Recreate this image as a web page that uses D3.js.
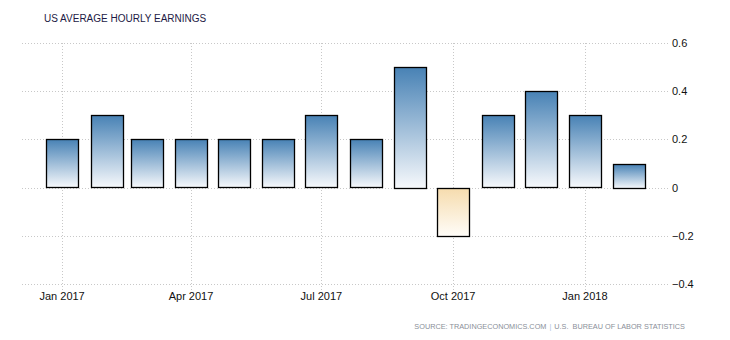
<!DOCTYPE html>
<html>
<head>
<meta charset="utf-8">
<script src="https://cdn.jsdelivr.net/npm/d3@7"></script>
<style>
  html, body { margin: 0; padding: 0; background: #fff; }
  svg { display: block; }
</style>
</head>
<body>
<svg id="chart" width="730" height="340"></svg>
<script>
const months = ["2017-01","2017-02","2017-03","2017-04","2017-05","2017-06","2017-07","2017-08","2017-09","2017-10","2017-11","2017-12","2018-01","2018-02"];
const values = [0.2, 0.3, 0.2, 0.2, 0.2, 0.2, 0.3, 0.2, 0.5, -0.2, 0.3, 0.4, 0.3, 0.1];
const yTicks = [-0.4, -0.2, 0, 0.2, 0.4, 0.6];
const xTickDates = ["2017-01","2017-04","2017-07","2017-10","2018-01"];
const xTickLabels = ["Jan 2017","Apr 2017","Jul 2017","Oct 2017","Jan 2018"];

(function () {
const parse = d3.utcParse("%Y-%m");
const svg = d3.select("#chart");
const font = "Liberation Sans, Arial, sans-serif";

const pl = 22, pr = 668, pt = 43, pb = 284;
const x = d3.scaleUtc()
  .domain([new Date(Date.UTC(2016, 11, 4)), new Date(Date.UTC(2018, 1, 28))])
  .range([pl, pr]);
const y = d3.scaleLinear().domain([-0.4, 0.6]).range([pb, pt]);
const barW = 32;

const defs = svg.append("defs");
const gPos = defs.append("linearGradient").attr("id", "gpos").attr("x1", 0).attr("y1", 0).attr("x2", 0).attr("y2", 1);
gPos.append("stop").attr("offset", "0%").attr("stop-color", "#4882b5");
gPos.append("stop").attr("offset", "100%").attr("stop-color", "#f7f9fc");
const gNeg = defs.append("linearGradient").attr("id", "gneg").attr("x1", 0).attr("y1", 0).attr("x2", 0).attr("y2", 1);
gNeg.append("stop").attr("offset", "0%").attr("stop-color", "#f6dcae");
gNeg.append("stop").attr("offset", "100%").attr("stop-color", "#fffdf9");

// Title
svg.append("text")
  .attr("x", 44).attr("y", 22)
  .attr("font-family", font)
  .attr("font-size", 10)
  .attr("fill", "#1d1a45")
  .text("US AVERAGE HOURLY EARNINGS");

// Horizontal gridlines
svg.append("g").selectAll("line").data(yTicks).join("line")
  .attr("x1", pl).attr("x2", pr)
  .attr("y1", d => Math.round(y(d)) + 0.5).attr("y2", d => Math.round(y(d)) + 0.5)
  .attr("stroke", "#c8c8c8").attr("stroke-dasharray", "1,2");

// Vertical gridlines
svg.append("g").selectAll("line").data(xTickDates).join("line")
  .attr("x1", d => Math.round(x(parse(d))) + 0.5).attr("x2", d => Math.round(x(parse(d))) + 0.5)
  .attr("y1", pt).attr("y2", pb + 6)
  .attr("stroke", "#c8c8c8").attr("stroke-dasharray", "1,2");

// Bars
svg.append("g").selectAll("rect").data(values).join("rect")
  .attr("x", (d, i) => Math.round(x(parse(months[i])) - barW / 2) + 0.5)
  .attr("y", d => Math.round(y(Math.max(0, d))) + 0.5)
  .attr("width", barW)
  .attr("height", d => Math.round(Math.abs(y(d) - y(0))))
  .attr("fill", d => d >= 0 ? "url(#gpos)" : "url(#gneg)")
  .attr("stroke", "#000").attr("stroke-width", 1.3);

// Y labels
svg.append("g").selectAll("text").data(yTicks).join("text")
  .attr("x", 672).attr("y", d => y(d) + 4)
  .attr("font-family", font)
  .attr("font-size", 11).attr("fill", "#111")
  .text(d => d === 0 ? "0" : d3.format(".1f")(d));

// X labels
svg.append("g").selectAll("text").data(xTickDates).join("text")
  .attr("x", d => x(parse(d)))
  .attr("y", 300)
  .attr("text-anchor", "middle")
  .attr("font-family", font)
  .attr("font-size", 11).attr("fill", "#111")
  .text((d, i) => xTickLabels[i]);

// Source (right-aligned at x=685, parts placed in sequence)
const srcParts = [
  { t: "SOURCE: TRADINGECONOMICS.COM", c: "#8a8f99" },
  { t: "|", c: "#a9c4e0" },
  { t: "U.S.  BUREAU OF LABOR STATISTICS", c: "#8a8f99" }
];
const gap = 3;
const nodes = svg.append("g").selectAll("text").data(srcParts).join("text")
  .attr("y", 329)
  .attr("font-family", font)
  .attr("font-size", 7.3).attr("fill", d => d.c)
  .attr("xml:space", "preserve")
  .text(d => d.t);
const widths = nodes.nodes().map(n => n.getComputedTextLength());
const total = d3.sum(widths) + gap * (widths.length - 1);
let cx = 685 - total;
nodes.each(function (d, i) {
  d3.select(this).attr("x", cx);
  cx += widths[i] + gap;
});
})();
</script>
</body>
</html>
